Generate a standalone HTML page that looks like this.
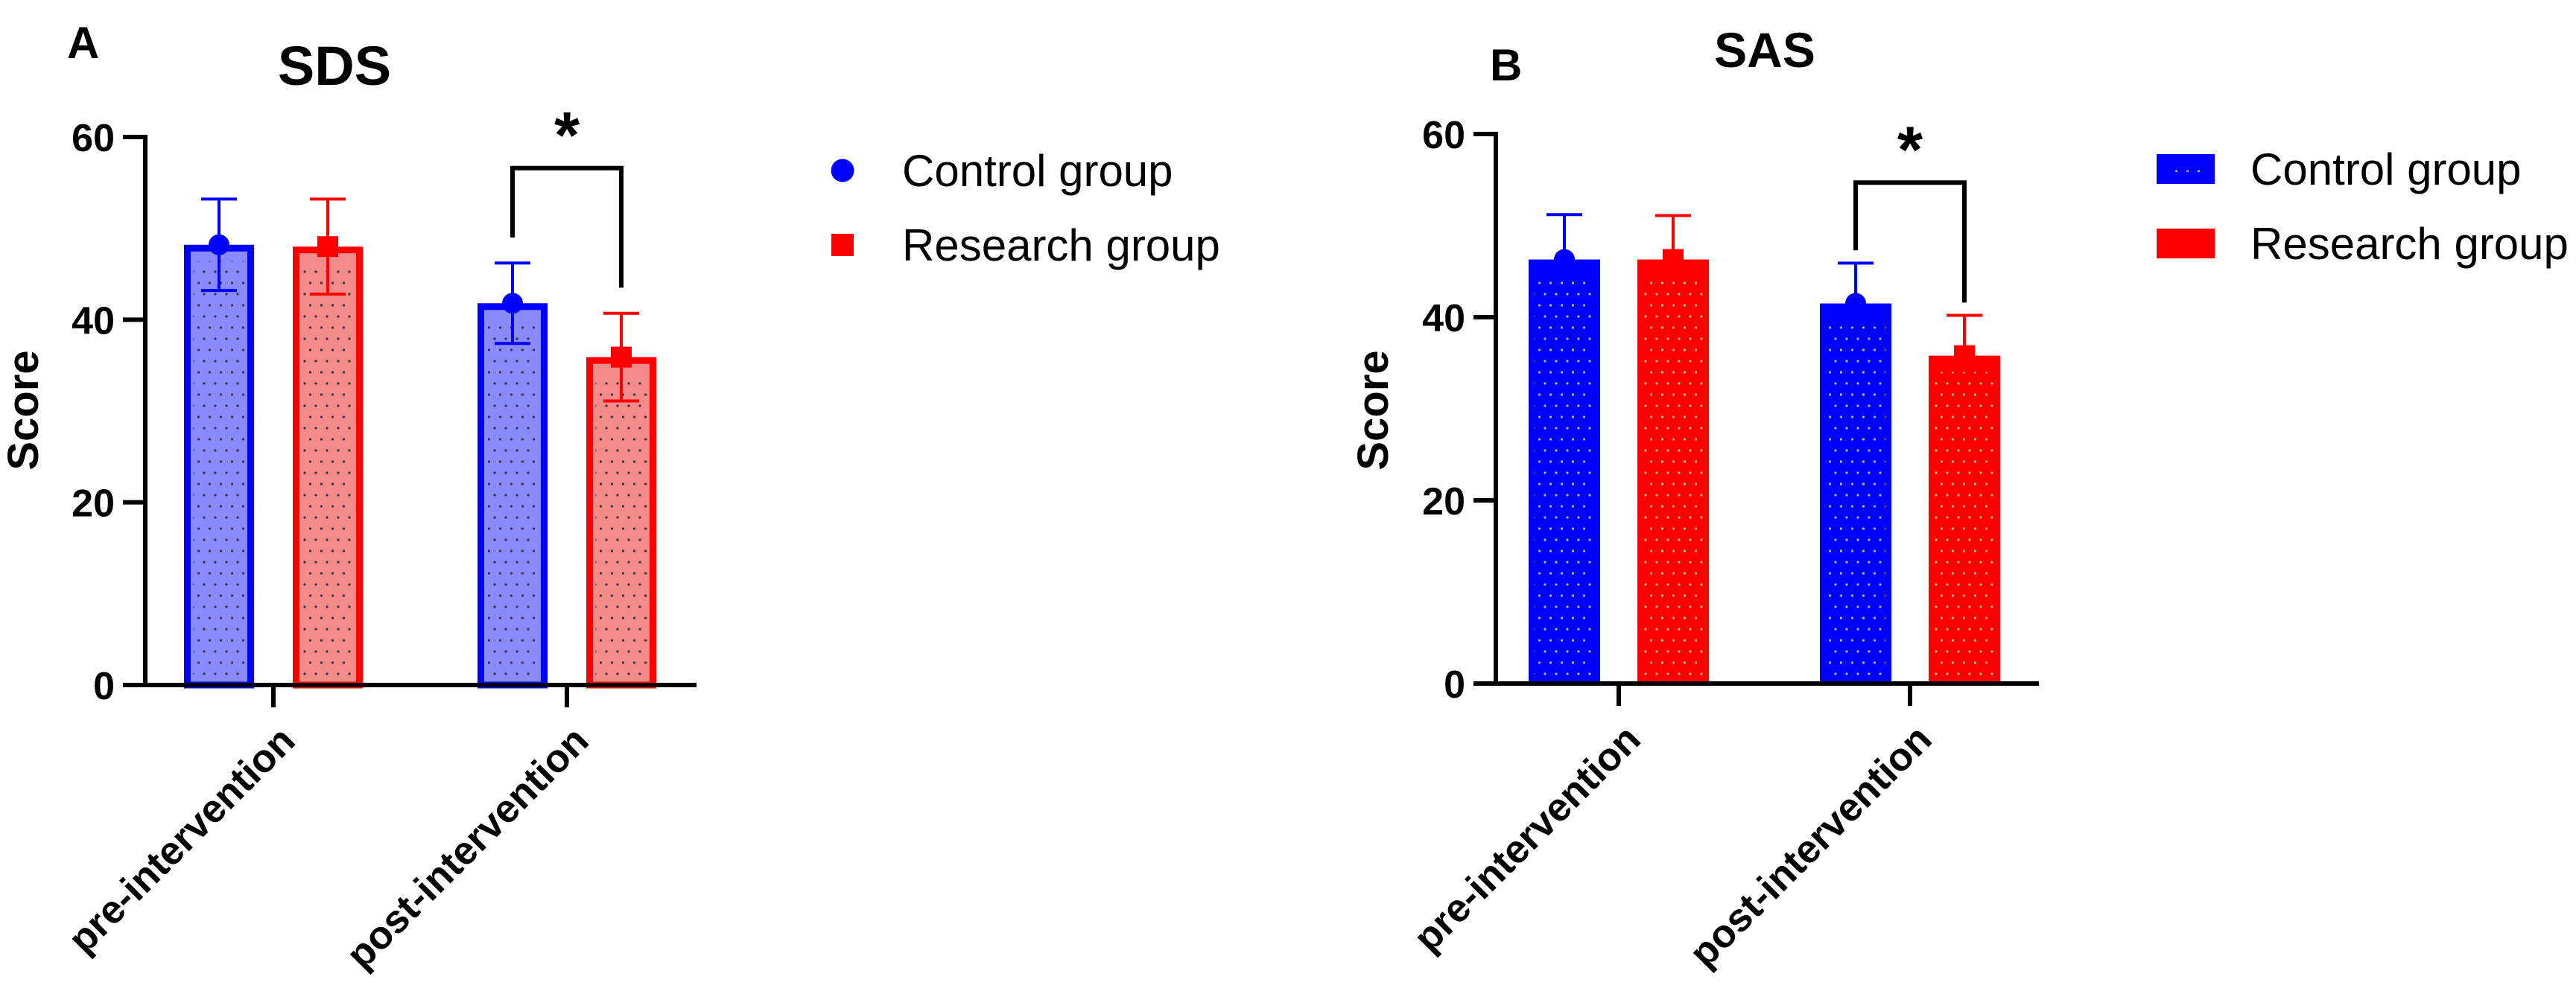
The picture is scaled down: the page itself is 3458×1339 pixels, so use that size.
<!DOCTYPE html>
<html><head><meta charset="utf-8">
<style>
html,body{margin:0;padding:0;background:#fff;}
svg{display:block;}
text{font-family:"Liberation Sans",Arial,sans-serif;}
</style></head>
<body>
<svg id="fig" width="3458" height="1339" viewBox="0 0 3458 1339" xmlns="http://www.w3.org/2000/svg">
<defs>
<pattern id="dotsDark" width="15" height="30" patternUnits="userSpaceOnUse">
<circle cx="4" cy="5" r="1.6" fill="#333"/><circle cx="11.5" cy="20" r="1.6" fill="#333"/>
</pattern>
<pattern id="dotsLight" width="15" height="30" patternUnits="userSpaceOnUse">
<circle cx="4" cy="5" r="1.6" fill="#b8b890"/><circle cx="11.5" cy="20" r="1.6" fill="#b8b890"/>
</pattern>
</defs>
<g id="panelA"></g>
<g id="panelB"></g>
</svg>
<script>
const categories = ['pre-intervention', 'post-intervention'];
const yTicks = [0, 20, 40, 60];
const seriesNames = ['Control group', 'Research group'];
const sdsControl = [48.2, 41.8];
const sdsControlSD = [5.0, 4.4];
const sdsResearch = [48.0, 35.9];
const sdsResearchSD = [5.2, 4.8];
const sasControl = [46.3, 41.5];
const sasControlSD = [4.9, 4.4];
const sasResearch = [46.3, 35.8];
const sasResearchSD = [4.8, 4.4];

const NS = 'http://www.w3.org/2000/svg';
function mk(parent, tag, attrs, txt) {
  const e = document.createElementNS(NS, tag);
  for (const k in attrs) e.setAttribute(k, attrs[k]);
  if (txt !== undefined) e.textContent = txt;
  parent.appendChild(e);
  return e;
}

function drawPanel(g, cfg) {
  const yS = v => cfg.y0 - (v / 60) * (cfg.y0 - cfg.y60);
  const xS = i => cfg.cx0 + i * cfg.step;
  let t = mk(g, 'text', {x: cfg.letterX, y: cfg.letterY, 'font-size': cfg.letterSize, 'font-weight': 'bold'}, cfg.letter);
  
  
  t = mk(g, 'text', {x: cfg.titleX, y: cfg.titleY, 'font-size': cfg.titleSize, 'font-weight': 'bold', 'text-anchor': 'middle'}, cfg.title);
  
  
  t = mk(g, 'text', {x: 0, y: 0, 'font-size': 58, 'font-weight': 'bold', 'text-anchor': 'middle', transform: `translate(${cfg.scoreX + 20},${cfg.scoreY}) rotate(-90)`}, 'Score');
  
  

  const series = [
    {vals: cfg.c, sd: cfg.csd, color: '#0000ff', fill: cfg.solid ? '#0000ff' : '#8a8aff', off: -cfg.off, marker: 'circle', name: 'control'},
    {vals: cfg.r, sd: cfg.rsd, color: '#ff0000', fill: cfg.solid ? '#ff0000' : '#f58a8a', off: cfg.off, marker: 'square', name: 'research'}
  ];
  const errs = (s, i, x) => {
    const m = s.vals[i], sd = s.sd[i];
    const lo = cfg.solid ? m : m - sd;
    let l = mk(g, 'line', {x1: x, x2: x, y1: yS(lo), y2: yS(m + sd), stroke: s.color, 'stroke-width': 4});
    
    
    l = mk(g, 'line', {x1: x - 24, x2: x + 24, y1: yS(m + sd), y2: yS(m + sd), stroke: s.color, 'stroke-width': 4});
    
    
    if (!cfg.solid) {
      l = mk(g, 'line', {x1: x - 24, x2: x + 24, y1: yS(m - sd), y2: yS(m - sd), stroke: s.color, 'stroke-width': 4});
      
      
    }
  };
  series.forEach(s => {
    categories.forEach((c, i) => {
      const x = xS(i) + s.off;
      const top = yS(s.vals[i]);
      const sw = cfg.solid ? 0 : 9;
      const w = cfg.barW - sw;
      const bg = mk(g, 'rect', {x: x - w / 2, y: top + sw / 2, width: w, height: cfg.y0 - top - sw / 2, fill: s.fill, stroke: cfg.solid ? 'none' : s.color, 'stroke-width': sw});
      
      
      const pat = mk(g, 'rect', {x: x - w / 2 + 8, y: top + 22, width: w - 16, height: Math.max(0, cfg.y0 - top - 28), fill: cfg.solid ? 'url(#dotsLight)' : 'url(#dotsDark)'});
      
      
      errs(s, i, x);
      let mkr;
      if (s.marker === 'circle') mkr = mk(g, 'circle', {cx: x, cy: top, r: 14, fill: s.color});
      else mkr = mk(g, 'rect', {x: x - 14, y: top - 14, width: 28, height: 28, fill: s.color});
      
      
    });
  });

  let a = mk(g, 'line', {x1: cfg.axX, x2: cfg.axX, y1: cfg.y0 + 3, y2: cfg.y60 - 3, stroke: '#000', 'stroke-width': 6});
  
  
  a = mk(g, 'line', {x1: cfg.axX - 30, x2: cfg.axEnd, y1: cfg.y0, y2: cfg.y0, stroke: '#000', 'stroke-width': 6});
  
  
  yTicks.forEach(v => {
    const y = yS(v);
    const tk = mk(g, 'line', {x1: cfg.axX - 30, x2: cfg.axX, y1: y, y2: y, stroke: '#000', 'stroke-width': 6});
    
    
    const tl = mk(g, 'text', {x: cfg.axX - 41, y: y + 19, 'font-size': 52, 'font-weight': 'bold', 'text-anchor': 'end'}, String(v));
    
    
  });
  categories.forEach((c, i) => {
    const x = xS(i);
    const tk = mk(g, 'line', {x1: x, x2: x, y1: cfg.y0, y2: cfg.y0 + 30, stroke: '#000', 'stroke-width': 6});
    
    
    const tl = mk(g, 'text', {x: 0, y: 0, 'font-size': 53, 'font-weight': 'bold', 'text-anchor': 'end', transform: `translate(${x + 32},${cfg.y0 + 78}) rotate(-45)`}, c);
    
    
  });

  const xl = xS(1) - cfg.off, xr = xS(1) + cfg.off;
  const lt = cfg.c[1] + cfg.csd[1], rt = cfg.r[1] + cfg.rsd[1];
  const topV = Math.max(lt, rt) + cfg.brTop;
  const br = mk(g, 'polyline', {points: `${xl},${yS(lt + cfg.brGap)} ${xl},${yS(topV)} ${xr},${yS(topV)} ${xr},${yS(rt + cfg.brGap)}`, fill: 'none', stroke: '#000', 'stroke-width': 6});
  
  
  const st = mk(g, 'text', {x: (xl + xr) / 2, y: yS(topV) - 14, 'font-size': 88, 'font-weight': 'bold', 'text-anchor': 'middle'}, '*');
  
  

  const lg = mk(g, 'g', {});
  
  
  seriesNames.forEach((n, k) => {
    const cy = cfg.legY + k * 100;
    const col = k === 0 ? '#0000ff' : '#ff0000';
    let sw;
    if (cfg.solid) {
      sw = mk(lg, 'rect', {x: cfg.legX - 39, y: cy - 20, width: 78, height: 40, fill: col});
      mk(lg, 'rect', {x: cfg.legX - 20, y: cy - 4, width: 40, height: 8, fill: 'url(#dotsLight)'});
    } else if (k === 0) sw = mk(lg, 'circle', {cx: cfg.legX, cy: cy, r: 15.5, fill: col});
    else sw = mk(lg, 'rect', {x: cfg.legX - 15, y: cy - 15, width: 30, height: 30, fill: col});
    
    
    const lt2 = mk(lg, 'text', {x: cfg.legTX, y: cy + 21, 'font-size': 60}, n);
    
    
  });
}

drawPanel(document.getElementById('panelA'), {
  letter: 'A', letterX: 90, letterY: 78, letterSize: 60,
  title: 'SDS', titleX: 449, titleY: 114, titleSize: 74,
  scoreX: 31, scoreY: 551,
  y0: 920, y60: 184, axX: 195, axEnd: 935,
  cx0: 367, step: 394, off: 73, barW: 94, solid: false,
  c: sdsControl, csd: sdsControlSD, r: sdsResearch, rsd: sdsResearchSD,
  brTop: 10.4, brGap: 2.8,
  legX: 1131, legTX: 1211, legY: 229
});
drawPanel(document.getElementById('panelB'), {
  letter: 'B', letterX: 2000, letterY: 108, letterSize: 60,
  title: 'SAS', titleX: 2369, titleY: 90, titleSize: 66,
  scoreX: 1843, scoreY: 551,
  y0: 918, y60: 180, axX: 2008, axEnd: 2737,
  cx0: 2173, step: 391, off: 73, barW: 96, solid: true,
  c: sasControl, csd: sasControlSD, r: sasResearch, rsd: sasResearchSD,
  brTop: 8.8, brGap: 1.4,
  legX: 2934, legTX: 3021, legY: 227
});
</script>
</body></html>
